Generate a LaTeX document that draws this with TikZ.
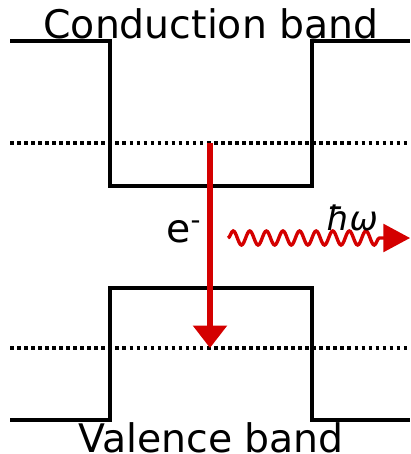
\documentclass[tikz,border=0pt]{standalone}
\usepackage{fontspec}
\setmainfont{DejaVu Sans}
\usetikzlibrary{arrows.meta, positioning, decorations.pathmorphing}
\definecolor{photonred}{RGB}{212,0,0}

\begin{document}
\begin{tikzpicture}[x=0.025cm, y=-0.025cm, >=Stealth,
    band/.style={line width=3.1pt, line join=miter},
    level/.style={line width=2.5pt, dash pattern=on 2.6pt off 2.4pt},
    label/.style={inner sep=0pt, font=\fontsize{28}{34}\selectfont}]
        \useasboundingbox (0,0) rectangle (411,454);
        % bands
        \draw[band] (10,41) -- (110,41) -- (110,186) -- (312,186) -- (312,41) -- (410,41);
        \draw[band] (10,420) -- (110,420) -- (110,288) -- (312,288) -- (312,420) -- (410,420);
        \foreach \y in {143, 348} {
            \draw[level] (10,\y) -- (410,\y);
        }
        \node[label, anchor=base] (cb) at (211,38) {Conduction band};
        \node[label, anchor=base] (vb) at (211,452) {Valence band};
        % transition
        \coordinate (start) at (210,143);
        \coordinate (stop) at (210,348);
        \draw[-{Triangle[width=23.5pt, length=16pt]}, photonred, line width=4pt] (start) -- (stop);
        \node[label, anchor=base west] (el) at (166,242) {e\textsuperscript{-}};
        % photon
        \coordinate (wstart) at (228,238);
        \coordinate (wend) at (384,238);
        \coordinate (wtip) at (410,238);
        \draw[photonred, line width=2.4pt, decorate,
            decoration={snake, segment length=11.8pt, amplitude=5pt}] (wstart) -- (wend);
        \draw[-{Triangle[width=20pt, length=19pt]}, photonred, line width=1.6pt] (wend) -- (wtip);
        \node[label, anchor=base west, font=\fontsize{24}{28}\selectfont] (hw) at (326,230) {\itshape ħω};
    \end{tikzpicture}
\end{document}
